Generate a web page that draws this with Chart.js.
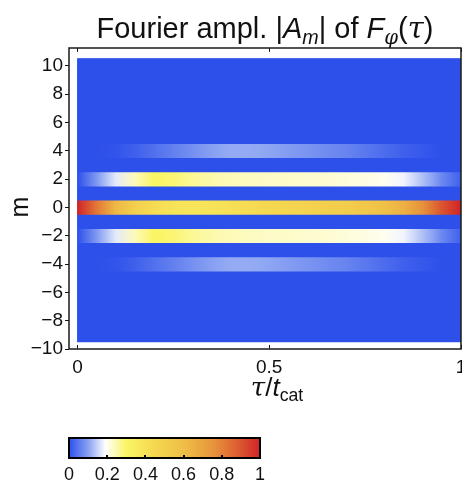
<!DOCTYPE html>
<html>
<head>
<meta charset="utf-8">
<script src="https://cdn.jsdelivr.net/npm/chart.js@4"></script>
<style>
  html, body { margin:0; padding:0; background:#fff; overflow:hidden; width:462px; height:487px; }
  #wrap { position:relative; width:462px; height:487px; overflow:hidden; }
  #main { position:absolute; left:0; top:0; }
  #cbar { position:absolute; left:0; top:420px; }
  .txt { position:absolute; font-family:"Liberation Sans", Arial, sans-serif; color:#111; white-space:nowrap; }
  .txt sub { font-size:68%; vertical-align:baseline; position:relative; top:0.3em; }
  #title { left:69px; width:392px; top:11px; text-align:center; font-size:29px; line-height:34px; }
  #xtitle { left:177px; width:200px; top:372px; text-align:center; font-size:26px; line-height:30px; }
  #ytitle { left:5px; top:192px; font-size:25px; line-height:30px; transform:rotate(-90deg); transform-origin:center; width:28px; text-align:center; }
  .mi { font-style:italic; }
  .gr { font-family:"DejaVu Serif", serif; font-style:italic; }
</style>
</head>
<body>
<div id="wrap">
  <canvas id="main" width="480" height="487" style="width:480px;height:487px"></canvas>
  <canvas id="cbar" width="300" height="67" style="width:300px;height:67px"></canvas>
  <div class="txt" id="title">Fourier ampl. |<span class="mi">A</span><sub class="mi">m</sub>| of <span class="mi">F</span><sub class="gr">φ</sub>(<span class="gr">τ</span>)</div>
  <div class="txt" id="xtitle"><span class="gr">τ</span>/<span class="mi">t</span><sub>cat</sub></div>
  <div class="txt" id="ytitle">m</div>
</div>
<script>
// ---------------- data ----------------
const tau = [0, 0.05, 0.1, 0.15, 0.2, 0.25, 0.3, 0.35, 0.4, 0.45, 0.5,
             0.55, 0.6, 0.65, 0.7, 0.75, 0.8, 0.85, 0.9, 0.95, 1];
const modes = [-9, -8, -7, -6, -5, -4, -3, -2, -1, 0, 1, 2, 3, 4, 5, 6, 7, 8, 9, 10];
const ampM0  = [1.0, 0.82, 0.62, 0.5, 0.43, 0.39, 0.38, 0.39, 0.41, 0.43, 0.45,
                0.46, 0.48, 0.5, 0.51, 0.54, 0.58, 0.65, 0.76, 0.9, 1.0];
const ampM2  = [0.0, 0.09, 0.17, 0.24, 0.3, 0.29, 0.265, 0.25, 0.24, 0.235, 0.23,
                0.228, 0.225, 0.222, 0.216, 0.21, 0.2, 0.18, 0.13, 0.07, 0.02];
const ampMm2 = [0.0, 0.09, 0.17, 0.24, 0.3, 0.29, 0.265, 0.25, 0.24, 0.235, 0.23,
                0.228, 0.225, 0.222, 0.216, 0.21, 0.2, 0.18, 0.13, 0.07, 0.02];
const ampM4  = [0, 0, 0.005, 0.02, 0.04, 0.06, 0.08, 0.1, 0.11, 0.11, 0.105,
                0.095, 0.085, 0.075, 0.065, 0.05, 0.035, 0.02, 0.01, 0, 0];
const ampMm4 = [0, 0, 0.005, 0.02, 0.04, 0.06, 0.08, 0.1, 0.11, 0.11, 0.105,
                0.095, 0.085, 0.075, 0.065, 0.05, 0.035, 0.02, 0.01, 0, 0];
const zeroRow = [0, 0, 0, 0, 0, 0, 0, 0, 0, 0, 0, 0, 0, 0, 0, 0, 0, 0, 0, 0, 0];
const xTicks = [0, 0.5, 1];
const yTicks = [-10, -8, -6, -4, -2, 0, 2, 4, 6, 8, 10];
const cbTicks = [0, 0.2, 0.4, 0.6, 0.8, 1];
// colour map (value -> rgb)
const cmapPos = [0, 0.1, 0.19, 0.3, 0.45, 0.6, 0.75, 0.88, 1];
const cmapRGB = [[45,80,235],[135,160,242],[255,255,255],[250,245,100],[245,215,80],
                 [238,190,70],[232,150,60],[220,95,50],[208,35,40]];

function rowFor(m) {
  if (m === 0) return ampM0;
  if (m === 2) return ampM2;
  if (m === -2) return ampMm2;
  if (m === 4) return ampM4;
  if (m === -4) return ampMm4;
  return zeroRow;
}
function cmap(v) {
  v = Math.max(0, Math.min(1, v));
  for (let i = 1; i < cmapPos.length; i++) {
    if (v <= cmapPos[i]) {
      const t = (v - cmapPos[i-1]) / (cmapPos[i] - cmapPos[i-1]);
      const a = cmapRGB[i-1], b = cmapRGB[i];
      return 'rgb(' + a.map((c, k) => Math.round(c + (b[k]-c)*t)).join(',') + ')';
    }
  }
  return 'rgb(' + cmapRGB[cmapRGB.length-1].join(',') + ')';
}

const FONT = "'Liberation Sans', Arial, sans-serif";
const gradCache = {};
function rowGradient(ctx) {
  const chart = ctx.chart;
  if (!chart.chartArea) return cmap(0);
  const m = modes[ctx.dataIndex];
  if (gradCache[m]) return gradCache[m];
  const xs = chart.scales.x;
  const x0 = xs.getPixelForValue(tau[0]), x1 = xs.getPixelForValue(tau[tau.length-1]);
  const g = chart.ctx.createLinearGradient(x0, 0, x1, 0);
  const vals = rowFor(m);
  tau.forEach((t, i) => g.addColorStop((t - tau[0]) / (tau[tau.length-1] - tau[0]), cmap(vals[i])));
  gradCache[m] = g;
  return g;
}

const bgPlugin = {
  id: 'bg',
  beforeDatasetsDraw(chart) {
    const {ctx, scales:{x, y}} = chart;
    const l = x.getPixelForValue(tau[0]), r = x.getPixelForValue(tau[tau.length-1]);
    const t = y.getPixelForValue(Math.max(...modes) + 0.5), b = y.getPixelForValue(Math.min(...modes) - 0.5);
    ctx.save(); ctx.fillStyle = cmap(0); ctx.fillRect(l, t, r - l, b - t); ctx.restore();
  }
};
const framePlugin = {
  id: 'frame',
  afterDraw(chart) {
    const {ctx, chartArea:a, scales:{x}} = chart;
    ctx.save();
    ctx.strokeStyle = '#1a1a1a'; ctx.lineWidth = 1.5;
    ctx.strokeRect(a.left, a.top, a.right - a.left, a.bottom - a.top);
    ctx.lineWidth = 1;
    xTicks.forEach(v => {
      const px = Math.round(x.getPixelForValue(v)) + 0.5;
      ctx.beginPath();
      ctx.moveTo(px, a.bottom); ctx.lineTo(px, a.bottom - 4);
      ctx.moveTo(px, a.top); ctx.lineTo(px, a.top + 4);
      ctx.stroke();
    });
    ctx.restore();
  }
};

new Chart(document.getElementById('main'), {
  type: 'bar',
  data: {
    datasets: [{
      data: modes.map(m => ({ y: m, x: [tau[0], tau[tau.length-1]] })),
      backgroundColor: rowGradient,
      borderWidth: 0,
      barPercentage: 1,
      categoryPercentage: 1
    }]
  },
  options: {
    indexAxis: 'y',
    responsive: false,
    animation: false,
    devicePixelRatio: 1,
    events: [],
    layout: { padding: { left: 0, right: 19, top: 48, bottom: 0 } },
    plugins: { legend: { display: false }, tooltip: { enabled: false } },
    scales: {
      x: {
        type: 'linear', min: -0.022, max: 1.0, offset: false,
        grid: { display: false, drawTicks: false, offset: false },
        border: { display: false },
        afterBuildTicks: s => { s.ticks = xTicks.map(v => ({ value: v })); },
        afterFit: s => { s.height = 138; },
        ticks: { color: '#111', font: { family: FONT, size: 19 }, padding: 7, maxRotation: 0,
                 callback: v => String(v) }
      },
      y: {
        type: 'linear', min: -10, max: 11.25, offset: false,
        grid: { display: true, offset: false, drawOnChartArea: false, drawTicks: true, tickLength: 4, color: '#111', lineWidth: 1 },
        border: { display: false },
        afterBuildTicks: s => { s.ticks = yTicks.map(v => ({ value: v })); },
        afterFit: s => { s.width = 69; },
        ticks: { color: '#111', font: { family: FONT, size: 19 }, padding: 2,
                 callback: v => v < 0 ? '\u2212' + Math.abs(v) : String(v) }
      }
    }
  },
  plugins: [bgPlugin, framePlugin]
});

// ---------------- colour bar ----------------
let cbGrad = null;
function cbGradient(ctx) {
  const chart = ctx.chart;
  if (!chart.chartArea) return cmap(0);
  if (cbGrad) return cbGrad;
  const xs = chart.scales.x;
  const g = chart.ctx.createLinearGradient(xs.getPixelForValue(0), 0, xs.getPixelForValue(1), 0);
  cmapPos.forEach(p => g.addColorStop(p, cmap(p)));
  cbGrad = g;
  return g;
}
const cbFrame = {
  id: 'cbframe',
  afterDraw(chart) {
    const {ctx, chartArea:a, scales:{x}} = chart;
    ctx.save();
    ctx.strokeStyle = '#000'; ctx.lineWidth = 2;
    ctx.strokeRect(a.left, a.top, a.right - a.left, a.bottom - a.top);
    ctx.lineWidth = 2;
    cbTicks.slice(1, -1).forEach(v => {
      const px = Math.round(x.getPixelForValue(v));
      ctx.beginPath(); ctx.moveTo(px, a.bottom); ctx.lineTo(px, a.bottom - 3); ctx.stroke();
    });
    ctx.restore();
  }
};
new Chart(document.getElementById('cbar'), {
  type: 'bar',
  data: {
    labels: ['|A_m|'],
    datasets: [{ data: [[0, 1]], backgroundColor: cbGradient, borderWidth: 0, barPercentage: 1, categoryPercentage: 1 }]
  },
  options: {
    indexAxis: 'y',
    responsive: false,
    animation: false,
    devicePixelRatio: 1,
    events: [],
    layout: { padding: { left: 69, right: 40, top: 18, bottom: 0 } },
    plugins: { legend: { display: false }, tooltip: { enabled: false } },
    scales: {
      x: {
        type: 'linear', min: 0, max: 1,
        grid: { display: false, drawTicks: false }, border: { display: false },
        afterBuildTicks: s => { s.ticks = cbTicks.map(v => ({ value: v })); },
        afterFit: s => { s.height = 29; },
        ticks: { color: '#111', font: { family: FONT, size: 18 }, padding: 6, maxRotation: 0, autoSkip: false,
                 callback: v => String(v) }
      },
      y: { display: false }
    }
  },
  plugins: [cbFrame]
});
</script>
</body>
</html>
